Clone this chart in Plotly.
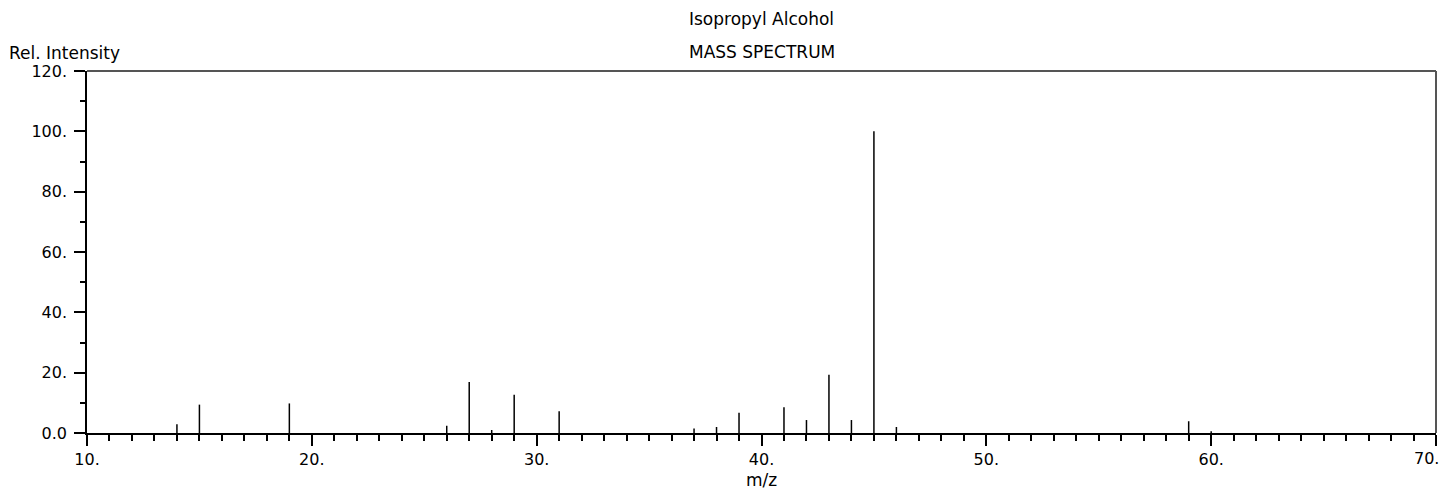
import plotly.graph_objects as go

# Data: m/z and relative intensity
mz = [14, 15, 19, 26, 27, 28, 29, 31, 37, 38, 39, 41, 42, 43, 44, 45, 46, 59, 60]
intensity = [2.9, 9.4, 9.8, 2.4, 16.9, 1.0, 12.7, 7.2, 1.5, 2.0, 6.7, 8.5, 4.3, 19.3, 4.3, 100.0, 2.0, 3.9, 0.6]

x_tickvals = [10, 20, 30, 40, 50, 60, 70]
x_ticktext = ["10.", "20.", "30.", "40.", "50.", "60.", "70."]
y_tickvals = [0, 20, 40, 60, 80, 100, 120]
y_ticktext = ["0.0", "20.", "40.", "60.", "80.", "100.", "120."]

title_main = "Isopropyl Alcohol"
title_sub = "MASS SPECTRUM"
y_label = "Rel. Intensity"
x_label = "m/z"

FONT = "DejaVu Sans"
FS = 17

# Build stems
xs, ys = [], []
for m, v in zip(mz, intensity):
    xs += [m, m, None]
    ys += [0, v, None]

fig = go.Figure()
fig.add_trace(go.Scatter(x=xs, y=ys, mode="lines",
                         line=dict(color="black", width=1.5),
                         hoverinfo="skip", showlegend=False))

# the last x tick label sits at the very edge of the page; it is drawn as an
# annotation nudged inward so the page does not overflow
axis_labels = x_ticktext[:-1] + [""]

# page body has an 8px margin, so size/margins compensate for it
fig.update_layout(
    width=1436, height=482,
    margin=dict(l=79, r=8, t=63, b=57),
    paper_bgcolor="white", plot_bgcolor="white",
    font=dict(family=FONT, size=FS, color="black"),
    showlegend=False,
    xaxis=dict(range=[10, 70], tickvals=x_tickvals, ticktext=axis_labels,
               ticks="outside", ticklen=11, tickwidth=1.5, tickcolor="black",
               showline=True, linecolor="black", linewidth=1.5,
               showgrid=False, zeroline=False,
               tickfont=dict(family=FONT, size=16),
               minor=dict(dtick=1, tick0=10, ticks="outside", ticklen=6,
                          tickwidth=1.5, tickcolor="black", showgrid=False)),
    yaxis=dict(range=[0, 120], tickvals=y_tickvals, ticktext=y_ticktext,
               ticks="outside", ticklen=11, tickwidth=1.5, tickcolor="black",
               showline=True, linecolor="black", linewidth=1.5,
               showgrid=False, zeroline=False, ticklabelstandoff=4,
               tickfont=dict(family=FONT, size=16),
               minor=dict(dtick=10, tick0=0, ticks="outside", ticklen=5,
                          tickwidth=1.5, tickcolor="black", showgrid=False)),
    shapes=[
        dict(type="line", xref="paper", yref="paper", x0=0, x1=1, y0=1, y1=1,
             line=dict(color="#555555", width=2)),
        dict(type="line", xref="paper", yref="paper", x0=1, x1=1, y0=0, y1=1,
             line=dict(color="#555555", width=2)),
    ],
    annotations=[
        dict(text=title_main, xref="paper", yref="paper", x=0.5, y=1,
             xanchor="center", yanchor="middle", yshift=52, showarrow=False,
             font=dict(family=FONT, size=FS)),
        dict(text=title_sub, xref="paper", yref="paper", x=0.5, y=1,
             xanchor="center", yanchor="middle", yshift=19, showarrow=False,
             font=dict(family=FONT, size=FS)),
        dict(text=y_label, xref="paper", yref="paper", x=0, y=1,
             xanchor="left", yanchor="middle", xshift=-80, yshift=18, showarrow=False,
             font=dict(family=FONT, size=FS)),
        dict(text=x_label, xref="paper", yref="paper", x=0.5, y=0,
             xanchor="center", yanchor="middle", yshift=-47, showarrow=False,
             font=dict(family=FONT, size=FS)),
        dict(text=x_ticktext[-1], xref="x", yref="paper", x=x_tickvals[-1], y=0,
             xanchor="right", yanchor="middle", xshift=5, yshift=-25, showarrow=False,
             font=dict(family=FONT, size=16)),
    ],
)

fig.write_html("out.html", config={"displayModeBar": False})
